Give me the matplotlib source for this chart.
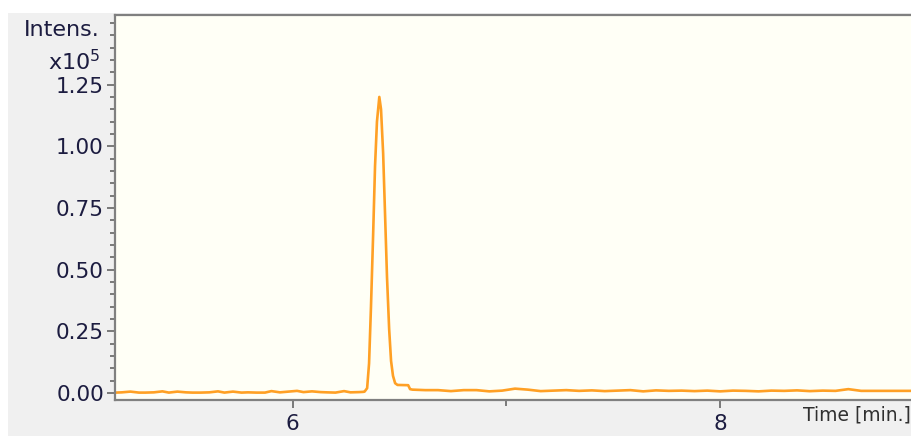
import matplotlib
matplotlib.use("Agg")
import matplotlib.pyplot as plt
from matplotlib.patches import Rectangle
from matplotlib.ticker import MultipleLocator, FormatStrFormatter, FixedLocator

# ---- data (time in min, intensity in units of 1e5) ----
pre_time = [5.17, 5.20, 5.24, 5.28, 5.31, 5.35, 5.39, 5.42, 5.46, 5.50, 5.53, 5.57,
            5.61, 5.65, 5.68, 5.72, 5.76, 5.79, 5.83, 5.87, 5.90, 5.94, 5.98, 6.02,
            6.05, 6.09, 6.13, 6.16, 6.20, 6.24, 6.27, 6.31, 6.33]
pre_int = [0.002, 0.003, 0.006, 0.002, 0.002, 0.003, 0.007, 0.002, 0.006, 0.003, 0.002, 0.002,
           0.003, 0.007, 0.002, 0.006, 0.002, 0.003, 0.002, 0.002, 0.008, 0.003, 0.006, 0.009,
           0.004, 0.007, 0.004, 0.003, 0.002, 0.008, 0.003, 0.004, 0.005]

peak_time = [6.336, 6.348, 6.357, 6.366, 6.376, 6.385, 6.394, 6.405, 6.413, 6.423,
             6.432, 6.441, 6.451, 6.460, 6.469, 6.479, 6.490, 6.540, 6.549]
peak_int = [0.006, 0.020, 0.120, 0.350, 0.640, 0.920, 1.100, 1.200, 1.150, 0.970,
            0.720, 0.470, 0.260, 0.130, 0.070, 0.040, 0.033, 0.032, 0.016]

post_time = [6.56, 6.62, 6.68, 6.74, 6.80, 6.86, 6.92, 6.98, 7.04, 7.10, 7.16, 7.22,
             7.28, 7.34, 7.40, 7.46, 7.52, 7.58, 7.64, 7.70, 7.76, 7.82, 7.88, 7.94,
             8.00, 8.06, 8.12, 8.18, 8.24, 8.30, 8.36, 8.42, 8.48, 8.54, 8.60, 8.66,
             8.72, 8.78, 8.84, 8.90]
post_int = [0.014, 0.012, 0.012, 0.008, 0.012, 0.012, 0.007, 0.010, 0.018, 0.014, 0.008, 0.010,
            0.012, 0.009, 0.011, 0.008, 0.010, 0.012, 0.007, 0.011, 0.009, 0.010, 0.008, 0.010,
            0.007, 0.010, 0.009, 0.007, 0.010, 0.009, 0.011, 0.008, 0.010, 0.009, 0.016, 0.009,
            0.009, 0.009, 0.009, 0.009]

x_major = [6, 8]
x_minor = [7]
x_labels = ["6", "8"]

time = pre_time + peak_time + post_time
intensity = pre_int + peak_int + post_int

W, H = 912, 436
fig = plt.figure(figsize=(W / 100, H / 100), dpi=100, facecolor="white")
# grey panel background
fig.patches.append(Rectangle((8 / W, 0), 1 - 8 / W, (H - 13) / H, transform=fig.transFigure,
                             facecolor="#f0f0f0", edgecolor="none", zorder=-10))

left, right = 115 / W, 1.0
bottom, top = (H - 400) / H, (H - 15) / H
ax = fig.add_axes([left, bottom, right - left, top - bottom])
ax.set_facecolor("#fffff6")

ax.plot(time, intensity, color="#ffa024", lw=1.9, solid_joinstyle="round")

ax.set_xlim(5.168, 8.898)
ax.set_ylim(-0.028, 1.532)

for s in ["left", "bottom", "top"]:
    ax.spines[s].set_color("#808080")
    ax.spines[s].set_linewidth(1.6)
ax.spines["right"].set_visible(False)

ax.yaxis.set_minor_locator(MultipleLocator(0.05))
ax.yaxis.set_major_formatter(FormatStrFormatter("%.2f"))
ax.set_yticks([0, 0.25, 0.5, 0.75, 1.0, 1.25])
ax.xaxis.set_major_locator(FixedLocator(x_major))
ax.set_xticklabels(x_labels)
ax.xaxis.set_minor_locator(FixedLocator(x_minor))

label_color = "#1c1c40"
ax.tick_params(axis="y", which="major", length=6, width=1.3, color="#707070",
               labelsize=15.5, labelcolor=label_color, pad=2)
ax.tick_params(axis="y", which="minor", length=3.5, width=1.3, color="#707070")
ax.tick_params(axis="x", which="major", length=6, width=1.3, color="#707070",
               labelsize=15.5, labelcolor=label_color, pad=4)
ax.tick_params(axis="x", which="minor", length=4, width=1.3, color="#707070")

fig.text(100 / W, 1 - 30 / H, "Intens.", ha="right", va="center", fontsize=16, color=label_color)
fig.text(100 / W, 1 - 62 / H, r"x10$^{5}$", ha="right", va="center", fontsize=16, color=label_color)
fig.text(911 / W, 1 - 415 / H, "Time [min.]", ha="right", va="center", fontsize=13.5, color="#303030")

fig.savefig("out.png", dpi=100, facecolor=fig.get_facecolor())
